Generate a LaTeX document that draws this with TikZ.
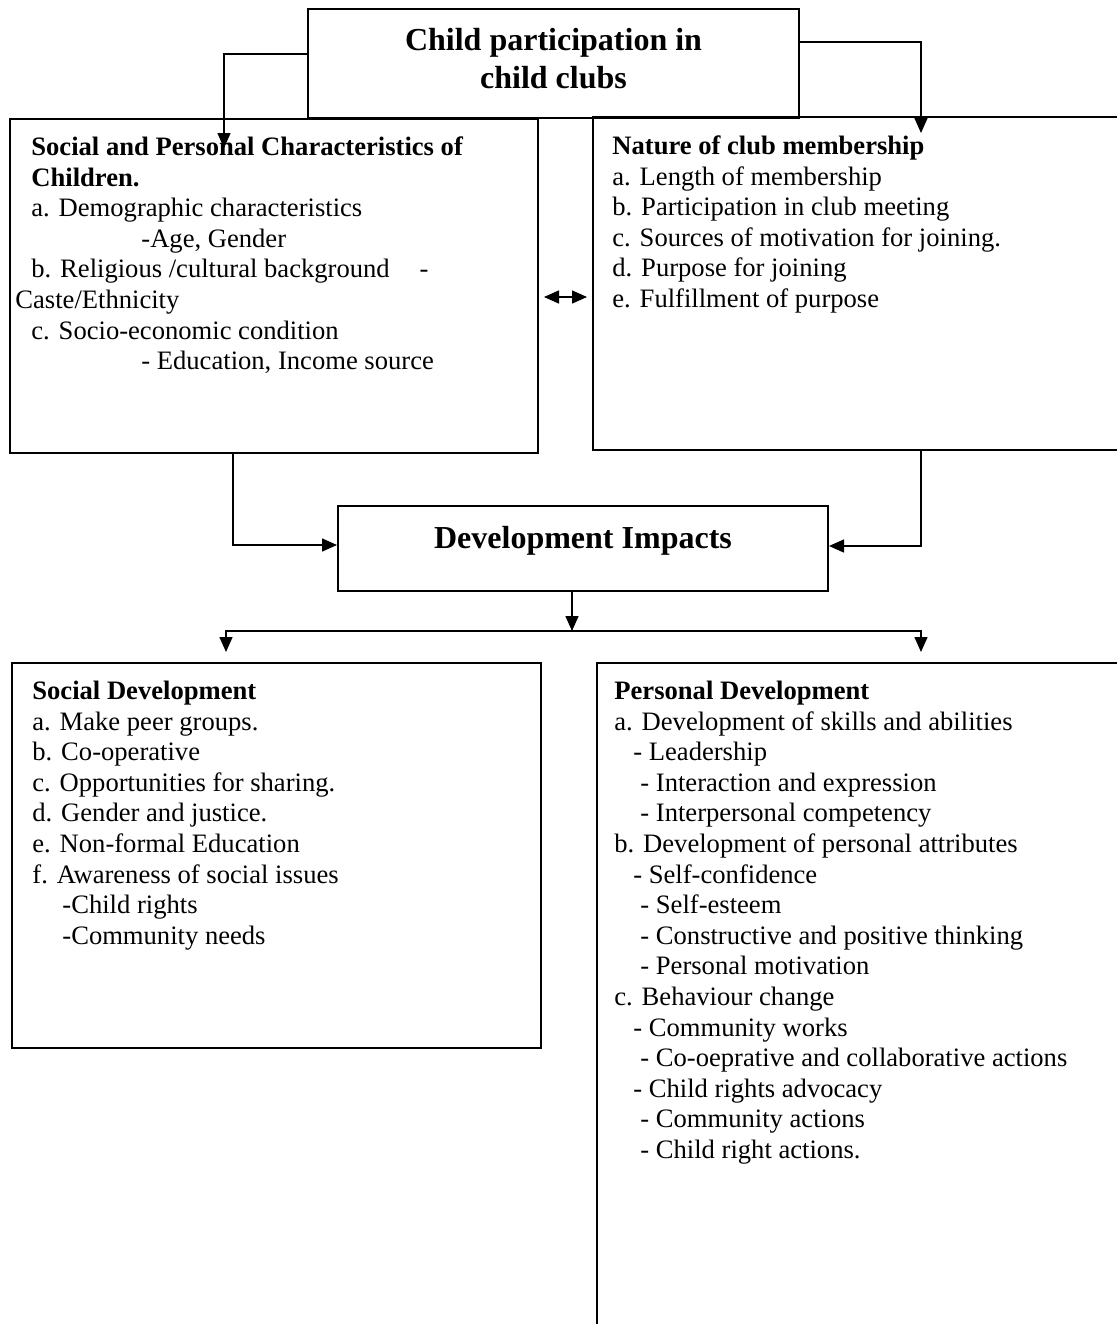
\documentclass[tikz,border=0pt]{standalone}
\usepackage{fontspec}
\setmainfont{Liberation Serif}
\usetikzlibrary{arrows.meta,positioning}

\tikzset{
  box/.style={draw, line width=1pt, inner sep=0pt},
  body/.style={inner sep=0pt, align=left, anchor=north west, font=\fontsize{13.3}{15.3}\selectfont},
  heading/.style={inner sep=0pt, align=center, font=\fontsize{16}{19}\selectfont\bfseries},
  arr/.style={line width=0.75pt, -{Triangle[width=6.5pt,length=7.5pt]}},
  dbl/.style={line width=0.75pt, {Triangle[width=6.5pt,length=7.5pt]}-{Triangle[width=6.5pt,length=7.5pt]}, shorten <=2.5pt, shorten >=2.5pt},
}

\begin{document}
\begin{tikzpicture}[x=0.5pt, y=-0.5pt]
      \useasboundingbox (0,0) rectangle (1117,1324);

      \node [box, minimum width=245.5pt, minimum height=54.5pt] (1) at (553.5,63.5) {};
      \node [heading] (1t) at ([yshift=2.5pt]1.center) {Child participation in\\child clubs};
      \node [box, minimum width=264pt, minimum height=167pt] (2) at (274,286) {};
      \node [box, minimum width=273.5pt, minimum height=166.5pt] (3) at (866.5,283.5) {};
      \node [box, minimum width=245pt, minimum height=42.5pt] (4) at (583,548.5) {};
      \node [heading] (4t) at ([yshift=4pt]4.center) {Development Impacts};
      \node [box, minimum width=264.5pt, minimum height=192.5pt] (5) at (276.5,855.5) {};
      \node [box, minimum width=271.5pt, minimum height=338.5pt] (6) at (868.5,1001.5) {};

      \node [body] (2t) at ([xshift=11pt, yshift=-7.8pt]2.north west)
        {\strut\textbf{Social and Personal Characteristics of}\\
         \textbf{Children.}\\
         a. Demographic characteristics\\
         \hspace*{55pt}-Age, Gender\\
         b. Religious /cultural background\hspace*{15pt}-\\
         \hspace*{-8pt}Caste/Ethnicity\\
         c. Socio-economic condition\\
         \hspace*{55pt}- Education, Income source};
      \node [body] (3t) at ([xshift=10pt, yshift=-8.3pt]3.north west)
        {\strut\textbf{Nature of club membership}\\
         a. Length of membership\\
         b. Participation in club meeting\\
         c. Sources of motivation for joining.\\
         d. Purpose for joining\\
         e. Fulfillment of purpose};
      \node [body] (5t) at ([xshift=10.5pt, yshift=-7.8pt]5.north west)
        {\strut\textbf{Social Development}\\
         a. Make peer groups.\\
         b. Co-operative\\
         c. Opportunities for sharing.\\
         d. Gender and justice.\\
         e. Non-formal Education\\
         f. Awareness of social issues\\
         \hspace*{15pt}-Child rights\\
         \hspace*{15pt}-Community needs};
      \node [body] (6t) at ([xshift=9pt, yshift=-7.8pt]6.north west)
        {\strut\textbf{Personal Development}\\
         a. Development of skills and abilities\\
         \hspace*{9.5pt}- Leadership\\
         \hspace*{13pt}- Interaction and expression\\
         \hspace*{13pt}- Interpersonal competency\\
         b. Development of personal attributes\\
         \hspace*{9.5pt}- Self-confidence\\
         \hspace*{13pt}- Self-esteem\\
         \hspace*{13pt}- Constructive and positive thinking\\
         \hspace*{13pt}- Personal motivation\\
         c. Behaviour change\\
         \hspace*{9.5pt}- Community works\\
         \hspace*{13pt}- Co-oeprative and collaborative actions\\
         \hspace*{9.5pt}- Child rights advocacy\\
         \hspace*{13pt}- Community actions\\
         \hspace*{13pt}- Child right actions.};

      \coordinate (a) at (224,148);
      \coordinate (b) at (921,133);
      \coordinate (m) at (565,297);
      \coordinate (c) at (233,545);
      \coordinate (d) at (921,546);
      \coordinate (s) at (572,631);
      \coordinate (e) at (226,652);
      \coordinate (f) at (921,652);

      \draw[arr] ([yshift=4.75pt]1.west) -| (a);
      \draw[arr] ([yshift=10.75pt]1.east) -| (b);
      \draw[dbl] (2.east |- m) -- (3.west |- m);
      \draw[arr] (2.south -| c) |- (4.west |- c);
      \draw[arr] (3.south -| d) |- (4.east |- d);
      \draw[arr] (4.south -| s) -- (s);
      \draw[arr] (s) -| (e);
      \draw[arr] (s) -| (f);
    \end{tikzpicture}
\end{document}
